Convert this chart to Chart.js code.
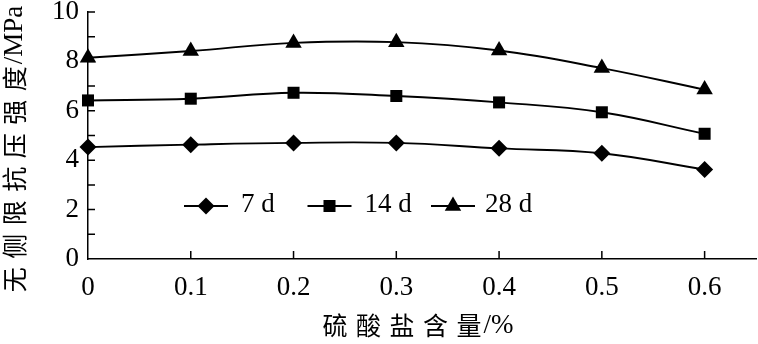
<!DOCTYPE html>
<html>
<head>
<meta charset="utf-8">
<script src="https://cdn.jsdelivr.net/npm/chart.js@4"></script>
<style>
  html, body { margin: 0; padding: 0; background: #fff; }
</style>
</head>
<body>
<canvas id="strengthChart" width="758" height="344"></canvas>
<script>
// sulfate content (%) and unconfined compressive strength (MPa)
const sulfate = [0, 0.1, 0.2, 0.3, 0.4, 0.5, 0.6]
const day7 = [4.53, 4.63, 4.70, 4.70, 4.48, 4.28, 3.62]
const day14 = [6.42, 6.49, 6.73, 6.60, 6.34, 5.94, 5.07]
const day28 = [8.15, 8.42, 8.75, 8.78, 8.44, 7.73, 6.86]
const seriesNames = ['7 d', '14 d', '28 d']
const yLabels = [0, 2, 4, 6, 8, 10]
const xTitle = ['硫酸盐含量', '/%']
const yTitle = ['无侧限抗压强度', '/MPa']

const serif = '"Liberation Serif", "Times New Roman", serif'
const cjk = '"Noto Sans CJK SC", sans-serif'
Chart.defaults.font.family = serif
Chart.defaults.color = '#000'

const toPoints = (vals) => vals.map((v, i) => ({ x: sulfate[i], y: v }))

function marker(ctx, style, r, x, y) {
  ctx.beginPath()
  if (style === 'rectRot') {
    ctx.moveTo(x - r, y); ctx.lineTo(x, y - r); ctx.lineTo(x + r, y); ctx.lineTo(x, y + r)
  } else if (style === 'rect') {
    const s = Math.SQRT1_2 * r
    ctx.rect(x - s, y - s, 2 * s, 2 * s)
  } else {
    const h = Math.sin(Math.PI / 3) * r
    ctx.moveTo(x, y - r)
    ctx.lineTo(x + h, y + r / 2)
    ctx.lineTo(x - h, y + r / 2)
  }
  ctx.closePath()
  ctx.fill()
}

// tick marks pointing into the plot
const innerTicks = {
  id: 'innerTicks',
  afterDraw(chart) {
    const { ctx, scales: { x, y } } = chart
    ctx.save()
    ctx.strokeStyle = '#000'
    ctx.lineWidth = 1.5
    ctx.beginPath()
    x.ticks.forEach(t => {
      if (t.value === 0) return
      const px = x.getPixelForValue(t.value)
      ctx.moveTo(px, y.bottom)
      ctx.lineTo(px, y.bottom - 8)
    })
    y.ticks.forEach(t => {
      if (t.value === 0) return
      const py = y.getPixelForValue(t.value)
      ctx.moveTo(x.left, py)
      ctx.lineTo(x.left + 7, py)
    })
    ctx.stroke()
    ctx.restore()
  }
}

function spacedTitle(ctx, parts, cx, cy, angle) {
  const gap = 8.5
  ctx.save()
  ctx.translate(cx, cy)
  ctx.rotate(angle)
  ctx.fillStyle = '#000'
  ctx.textBaseline = 'middle'
  ctx.textAlign = 'left'
  const chars = [...parts[0]]
  ctx.font = '25px ' + cjk
  const cw = chars.map(c => ctx.measureText(c).width)
  ctx.font = '27px ' + serif
  const lw = ctx.measureText(parts[1]).width
  const total = cw.reduce((a, b) => a + b, 0) + gap * (chars.length - 1) + 2 + lw
  let pos = -total / 2
  ctx.font = '25px ' + cjk
  chars.forEach((c, i) => {
    ctx.fillText(c, pos, 0)
    pos += cw[i] + gap
  })
  pos += 2 - gap
  ctx.font = '27px ' + serif
  ctx.fillText(parts[1], pos, 1)
  ctx.restore()
}

const axisTitles = {
  id: 'axisTitles',
  afterDraw(chart) {
    const { ctx, chartArea } = chart
    spacedTitle(ctx, xTitle, (chartArea.left + chartArea.right) / 2 - 4, 325, 0)
    spacedTitle(ctx, yTitle, 14, 149, -Math.PI / 2)
  }
}

// legend drawn inside the plot: line segment with marker, then label
const lineLegend = {
  id: 'lineLegend',
  afterDraw(chart) {
    const ctx = chart.ctx
    ctx.save()
    chart.data.datasets.forEach((ds, i) => {
      const x0 = 184 + i * 123.5
      const y0 = 206
      ctx.strokeStyle = '#000'
      ctx.lineWidth = 1.8
      ctx.beginPath()
      ctx.moveTo(x0, y0)
      ctx.lineTo(x0 + 44, y0)
      ctx.stroke()
      ctx.fillStyle = '#000'
      marker(ctx, ds.pointStyle, ds.pointRadius, x0 + 22, y0)
      ctx.font = '27px ' + serif
      ctx.textBaseline = 'middle'
      ctx.fillText(ds.label, x0 + 57 - (i === 2 ? 3 : 0), y0 - 1)
    })
    ctx.restore()
  }
}

const common = {
  borderColor: '#000',
  backgroundColor: '#000',
  borderWidth: 1.9,
  pointBackgroundColor: '#000',
  pointBorderColor: '#000',
  pointBorderWidth: 0,
  tension: 0.4,
  clip: false
}

new Chart(document.getElementById('strengthChart'), {
  type: 'line',
  data: {
    datasets: [
      { ...common, label: seriesNames[0], data: toPoints(day7), pointStyle: 'rectRot', pointRadius: 8.5 },
      { ...common, label: seriesNames[1], data: toPoints(day14), pointStyle: 'rect', pointRadius: 8.5 },
      { ...common, label: seriesNames[2], data: toPoints(day28), pointStyle: 'triangle', pointRadius: 9.5 }
    ]
  },
  options: {
    responsive: false,
    animation: false,
    events: [],
    layout: { autoPadding: false, padding: { top: 12, right: 2, left: 0, bottom: 0 } },
    plugins: {
      legend: { display: false },
      tooltip: { enabled: false }
    },
    scales: {
      x: {
        type: 'linear',
        min: 0,
        max: 0.65,
        afterBuildTicks: s => { s.ticks = sulfate.map(v => ({ value: v })) },
        afterFit: s => { s.height = 85; s.paddingRight = 0; s.paddingLeft = 0 },
        ticks: {
          autoSkip: false,
          maxRotation: 0,
          padding: 13,
          font: { size: 27 },
          callback: v => v === 0 ? '0' : v.toFixed(1)
        },
        grid: { drawOnChartArea: false, drawTicks: false },
        border: { color: '#000', width: 1.5 }
      },
      y: {
        min: 0,
        max: 10,
        afterFit: s => { s.width = 88; s.paddingTop = 0; s.paddingBottom = 0 },
        ticks: {
          stepSize: 1,
          autoSkip: false,
          padding: 9,
          font: { size: 27 },
          callback: v => yLabels.includes(v) ? String(v) : ''
        },
        grid: { drawOnChartArea: false, drawTicks: false },
        border: { color: '#000', width: 1.5 }
      }
    }
  },
  plugins: [innerTicks, axisTitles, lineLegend]
})
</script>
</body>
</html>
